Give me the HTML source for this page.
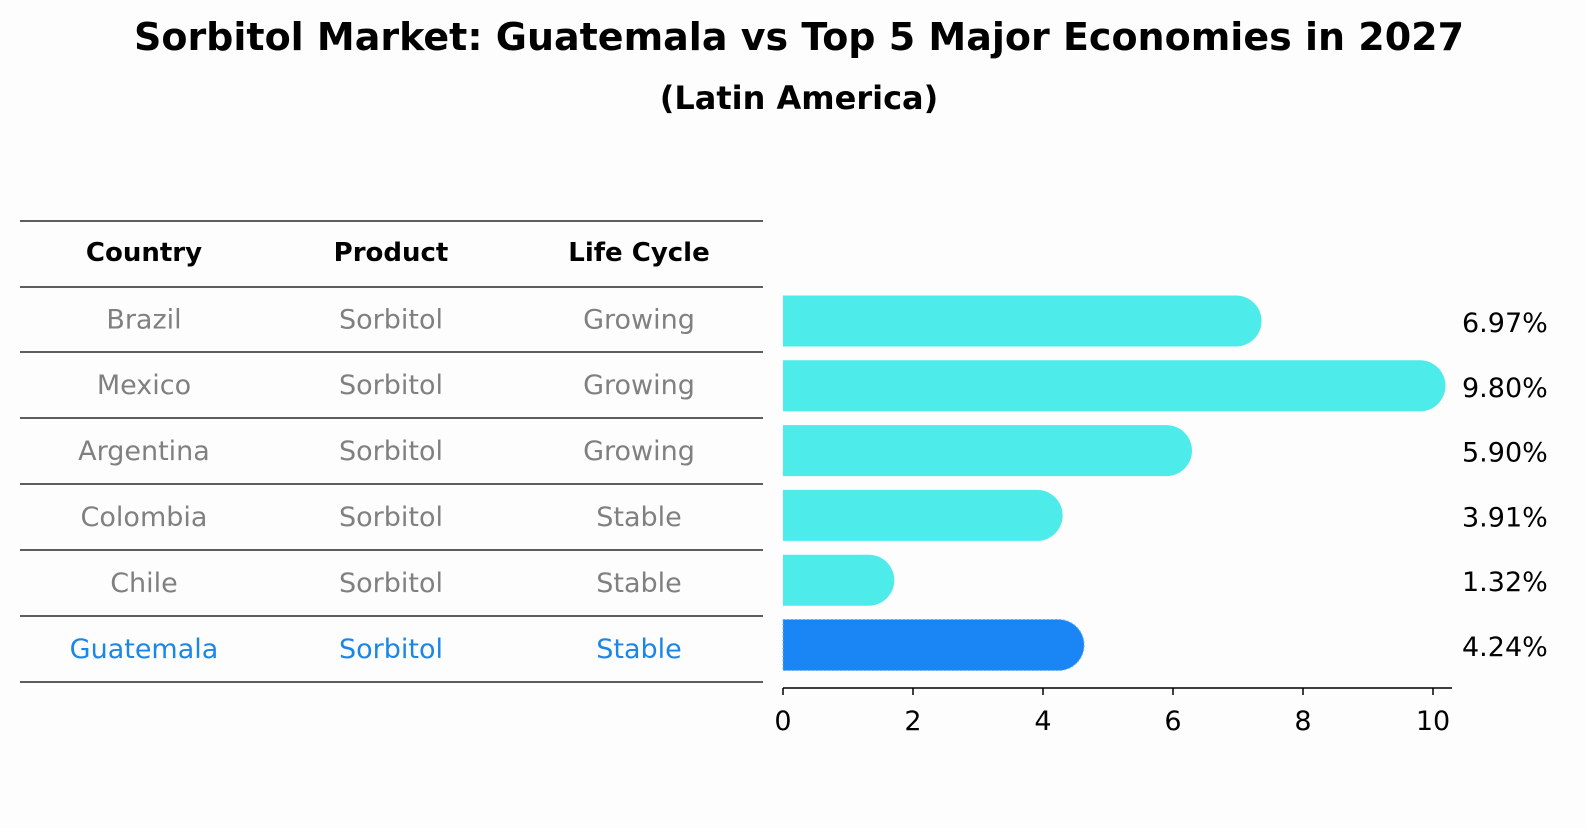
<!DOCTYPE html>
<html><head><meta charset="utf-8"><style>
body{margin:0;background:#fdfdfd;}
svg text{font-family:"DejaVu Sans","Liberation Sans",sans-serif;}
</style></head><body>
<svg width="1586" height="823" viewBox="0 0 1586 823" xmlns="http://www.w3.org/2000/svg">
<rect width="1586" height="823" fill="#fdfdfd"/>
<text x="799" y="50" text-anchor="middle" font-size="38" font-weight="bold">Sorbitol Market: Guatemala vs Top 5 Major Economies in 2027</text>
<text x="799" y="109" text-anchor="middle" font-size="32" font-weight="bold">(Latin America)</text>
<g id="table"></g>
<g id="bars"></g>
</svg>
<script>
const countries=["Brazil","Mexico","Argentina","Colombia","Chile","Guatemala"];
const products=["Sorbitol","Sorbitol","Sorbitol","Sorbitol","Sorbitol","Sorbitol"];
const lifeCycles=["Growing","Growing","Growing","Stable","Stable","Stable"];
const values=[6.97,9.80,5.90,3.91,1.32,4.24];
const xTicks=[0,2,4,6,8,10];
const NS="http://www.w3.org/2000/svg";
function mk(tag,attrs,parent,txt){const e=document.createElementNS(NS,tag);for(const k in attrs)e.setAttribute(k,attrs[k]);if(txt!==undefined)e.textContent=txt;parent.appendChild(e);return e;}
const x=v=>783+v*65;
const rowY=i=>321+i*64.8;
const tbl=document.getElementById('table');
const cols=[144,391,639];
const lineYs=[221,287,352,418,484,550,616,682];
lineYs.forEach((y,i)=>{const l=mk('line',{x1:20,x2:763,y1:y,y2:y,stroke:'#000','stroke-width':1.2},tbl);

});
["Country","Product","Life Cycle"].forEach((h,j)=>{const t=mk('text',{x:cols[j],y:261,'text-anchor':'middle','font-size':26,'font-weight':'bold'},tbl,h);

});
countries.forEach((c,i)=>{const col=i===countries.length-1?'#1a86e8':'#808080';
[c,products[i],lifeCycles[i]].forEach((v,j)=>{const t=mk('text',{x:cols[j],y:(lineYs[i+1]+lineYs[i+2])/2+9,'text-anchor':'middle','font-size':27,fill:col},tbl,v);

});});
const g=document.getElementById('bars');
values.forEach((v,i)=>{const cy=rowY(i),h=51,r=25.5;const last=i===values.length-1;
const p=mk('path',{d:`M${x(0)} ${cy-h/2} H${x(v)} A${r} ${r} 0 0 1 ${x(v)} ${cy+h/2} H${x(0)} Z`,fill:last?'#1a86f5':'#4deceb'},g);
if(last){p.setAttribute('stroke','#6bb0f0');p.setAttribute('stroke-dasharray','2 2');p.setAttribute('stroke-width','1');}


const t=mk('text',{x:1462,y:cy+11,'font-size':27},g,v.toFixed(2)+'%');

});
const ax=mk('line',{x1:783,x2:1452,y1:688,y2:688,stroke:'#000','stroke-width':1.5},g);


xTicks.forEach(v=>{const tl=mk('line',{x1:x(v),x2:x(v),y1:688,y2:695,stroke:'#000','stroke-width':1.5},g);


const t=mk('text',{x:x(v),y:730,'text-anchor':'middle','font-size':27},g,String(v));

});
</script>
</body></html>
